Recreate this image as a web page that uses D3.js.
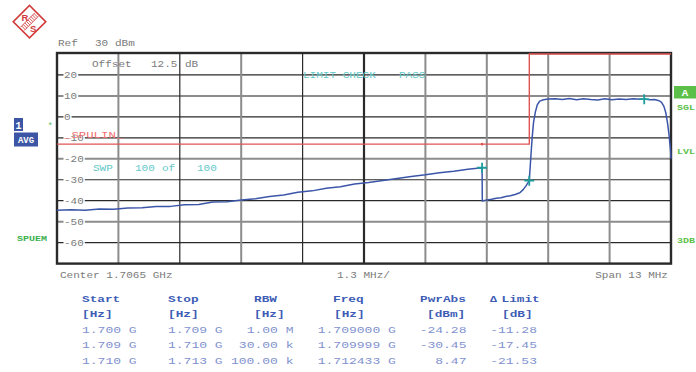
<!DOCTYPE html>
<html><head><meta charset="utf-8">
<script src="https://cdn.jsdelivr.net/npm/d3@7"></script>
<style>body{margin:0;background:#fff}svg{display:block}text{white-space:pre}</style>
</head><body>
<svg id="c" width="696" height="372"></svg>
<script>
// ---------- data ----------
const freqStartGHz = 1.700, spanMHz = 13;
const yTicks = [20, 10, 0, -10, -20, -30, -40, -50, -60];
const xDivs = [0,1,2,3,4,5,6,7,8,9,10];
// trace (MHz offset from 1.700 GHz, dBm)
const traceF = [0.00,0.30,0.60,0.90,1.20,1.50,1.80,2.10,2.40,2.70,3.00,3.30,3.60,3.90,4.20,4.50,4.80,5.10,5.40,5.70,6.00,6.30,6.60,6.90,7.20,7.50,7.80,8.10,8.40,8.70,9.00,
  9.005,9.10,9.20,9.30,9.40,9.50,9.60,9.70,9.80,9.87,9.93,9.999,10.03,10.06,10.09,10.13,10.17,10.22,10.30,10.40,
  10.55,10.70,10.85,11.00,11.15,11.30,11.45,11.60,11.75,11.90,12.05,12.20,12.35,12.433,12.55,12.65,12.75,12.80,12.85,12.89,12.93,12.96,12.99,13.00];
const traceV = [-44.6,-44.3,-44.5,-44.0,-44.1,-43.5,-43.4,-42.7,-42.7,-41.9,-41.8,-40.6,-40.5,-39.7,-39.1,-38.0,-37.3,-36.0,-35.3,-34.0,-33.3,-32.0,-31.3,-30.3,-29.4,-28.4,-27.6,-26.6,-25.9,-25.0,-24.28,
  -40.1,-39.6,-39.3,-38.8,-38.6,-38.0,-37.6,-37.0,-36.2,-34.7,-32.9,-30.45,-20.0,-10.0,-2.5,2.5,5.8,7.5,8.2,8.5,
  8.7,8.3,8.8,8.2,8.6,8.3,8.1,8.6,8.2,8.5,8.3,8.7,8.4,8.47,8.2,8.3,7.7,6.9,5.0,2.0,-3.5,-9.0,-16.0,-20.0];
const limitF = [0, 10, 10, 13];
const limitV = [-13, -13, 30, 30];
const markerF = [9.0, 9.999, 12.433];
const markerV = [-24.28, -30.45, 8.47];
const tblHead = ["Start","Stop","RBW","Freq","PwrAbs"];
const colStart = ["1.700 G","1.709 G","1.710 G"];
const colStop = ["1.709 G","1.710 G","1.713 G"];
const colRBW = ["1.00 M","30.00 k","100.00 k"];
const colFreq = ["1.709000 G","1.709999 G","1.712433 G"];
const colPwr = ["-24.28","-30.45","8.47"];
const colLim = ["-11.28","-17.45","-21.53"];

// ---------- drawing ----------
const svg = d3.select("#c");
const x = d3.scaleLinear().domain([0, spanMHz]).range([57, 671]);
const y = d3.scaleLinear().domain([-70, 30]).range([263.6, 54]);
const FONT = "'Liberation Mono','DejaVu Sans Mono',monospace";

function T(str, tx, ty, o) {
  o = o || {};
  return svg.append("text")
    .attr("transform", `translate(${tx},${ty}) scale(${o.sx||1.3},1)`)
    .attr("font-family", FONT).attr("font-size", o.size||8.5)
    .attr("font-weight", o.weight||"normal")
    .attr("text-anchor", o.anchor||"start")
    .attr("fill", o.fill||"#7a7a7a").text(str);
}

// logo
const RED = "#d23a3a";
const logo = svg.append("g").attr("transform","translate(29.5,21.7) rotate(45)");
logo.append("rect").attr("x",-11.5).attr("y",-11.5).attr("width",23).attr("height",23)
  .attr("fill","none").attr("stroke",RED).attr("stroke-width",1.6);
for (let i=-9;i<=9;i+=2.2){
  logo.append("line").attr("x1",-2.5).attr("x2",2.5).attr("y1",i).attr("y2",i)
   .attr("stroke",RED).attr("stroke-width",0.8);
}
logo.append("line").attr("x1",-2.5).attr("x2",-2.5).attr("y1",-10).attr("y2",10).attr("stroke",RED).attr("stroke-width",0.8);
logo.append("line").attr("x1",2.5).attr("x2",2.5).attr("y1",-10).attr("y2",10).attr("stroke",RED).attr("stroke-width",0.8);
svg.append("text").attr("x",21.5).attr("y",20.5).attr("font-family","'Liberation Sans',sans-serif").attr("font-weight","bold").attr("font-size",9.5).attr("fill",RED).text("R");
svg.append("text").attr("x",30).attr("y",31.5).attr("font-family","'Liberation Sans',sans-serif").attr("font-weight","bold").attr("font-size",9.5).attr("fill",RED).text("S");

// grid
const hStyle = {"20":"d","10":"g","0":"d","-10":"d","-20":"g","-30":"d","-40":"d","-50":"g","-60":"d"};
const vStyle = ["","g","d","g","d","D","g","g","g","g"];
const gridG = svg.append("g");
yTicks.forEach(v => {
  const s = hStyle[String(v)];
  gridG.append("line").attr("x1",x(0)).attr("x2",x(spanMHz)).attr("y1",y(v)).attr("y2",y(v))
    .attr("stroke", s==="g" ? "#8c8c8c" : "#2a2a2a").attr("stroke-width", s==="g" ? 2 : 1.2);
});
xDivs.slice(1,10).forEach(i => {
  const s = vStyle[i];
  gridG.append("line").attr("x1",x(i*1.3)).attr("x2",x(i*1.3)).attr("y1",y(30)).attr("y2",y(-70))
    .attr("stroke", s==="g" ? "#8c8c8c" : "#2a2a2a").attr("stroke-width", s==="g" ? 2 : (s==="D"?2.2:1.2));
});
// frame
svg.append("rect").attr("x",x(0)).attr("y",y(30)-1).attr("width",x(spanMHz)-x(0)).attr("height",y(-70)-y(30)+1)
  .attr("fill","none").attr("stroke","#2a2a2a").attr("stroke-width",2.4);

// y tick labels with white background
yTicks.forEach(v => {
  const label = v < 0 ? "-" + Math.abs(v) : String(v);
  const w = label.length * 6.6;
  svg.append("rect").attr("x",63.5).attr("y",y(v)-4).attr("width",w+1.5).attr("height",8).attr("fill","#fff");
  T(label, 64, y(v)+3, {size:8.3, sx:1.32});
});

// texts in plot
T("Ref", 58, 46);
T("30", 95, 46);
T("dBm", 115, 46);
T("Offset", 92, 66.5);
T("12.5", 151, 66.5);
T("dB", 185, 66.5);
T("LIMIT CHECK", 303, 77.5, {fill:"#64c8c8"});
T("PASS", 399, 77.5, {fill:"#64c8c8"});
T("SWP", 93, 170.5, {fill:"#64c8c8"});
T("100", 135, 170.5, {fill:"#64c8c8"});
T("of", 162, 170.5, {fill:"#64c8c8"});
T("100", 197, 170.5, {fill:"#64c8c8"});

// limit line
const lim = d3.range(limitF.length).map(i => [limitF[i], limitV[i]]);
svg.append("path").attr("d", d3.line().x(d=>x(d[0])).y(d=>y(d[1]))(lim))
  .attr("fill","none").attr("stroke","#e05454").attr("stroke-width",1.4);
svg.append("circle").attr("cx",x(9.0)).attr("cy",y(-13)).attr("r",1.3).attr("fill","#e05454");
T("_SPULIN_", 64, 137.5, {fill:"#f07070", size:9.5, sx:1.3});

// trace
const tr = d3.range(traceF.length).map(i => [traceF[i], traceV[i]]);
svg.append("path").attr("d", d3.line().x(d=>x(d[0])).y(d=>y(d[1]))(tr))
  .attr("fill","none").attr("stroke","#3b56a8").attr("stroke-width",1.5).attr("stroke-linejoin","round");

// markers
markerF.forEach((f,i) => {
  const cx = x(f), cy = y(markerV[i]);
  svg.append("path").attr("d",`M${cx-5},${cy}H${cx+5}M${cx},${cy-5}V${cy+5}`)
    .attr("stroke","#1e9c9c").attr("stroke-width",1.8);
});

// left annotations
svg.append("rect").attr("x",14).attr("y",118).attr("width",9).attr("height",13).attr("fill","#3d55a5");
svg.append("text").attr("x",18.5).attr("y",128.5).attr("text-anchor","middle").attr("font-family",FONT).attr("font-weight","bold").attr("font-size",10).attr("fill","#fff").text("1");
svg.append("rect").attr("x",14).attr("y",132.5).attr("width",24).attr("height",14).attr("fill","#3d55a5");
T("AVG", 26, 143, {fill:"#fff", weight:"bold", size:8.5, sx:1.05, anchor:"middle"});
T("*", 47.5, 129, {fill:"#5cbf5c", size:9, sx:1});
T("SPUEM", 17, 240.5, {fill:"#3bb04f", weight:"bold", size:8, sx:1.25});

// right annotations
svg.append("rect").attr("x",674).attr("y",86).attr("width",22).attr("height",12.5).attr("fill","#5cbf4a");
T("A", 685, 96, {fill:"#fff", weight:"bold", size:9, sx:1.2, anchor:"middle"});
T("SGL", 677, 110, {fill:"#5cbf4a", weight:"bold", size:8, sx:1.25});
T("LVL", 677, 154, {fill:"#5cbf4a", weight:"bold", size:8, sx:1.25});
T("3DB", 677, 243, {fill:"#5cbf4a", weight:"bold", size:8, sx:1.25});

// bottom axis info
T("Center " + (freqStartGHz + spanMHz/2000).toFixed(4) + " GHz", 60, 277.5);
T((spanMHz/10).toFixed(1) + " MHz/", 337, 277.5);
T("Span " + spanMHz + " MHz", 668, 277.5, {anchor:"end"});

// table
const HC = "#3d5cb5", DC = "#7f92cf";
const hx = [82, 168, 254, 333, 420];
tblHead.forEach((h,i) => T(h, hx[i], 302, {fill:HC, weight:"bold", size:9.6, sx:1.33}));
T("\u0394", 490, 302, {fill:HC, weight:"bold", size:9.6, sx:1.2});
T("Limit", 501.5, 302, {fill:HC, weight:"bold", size:9.6, sx:1.33});
[[82,"[Hz]"],[168,"[Hz]"],[254,"[Hz]"],[334,"[Hz]"],[427,"[dBm]"],[502,"[dB]"]]
  .forEach(d => T(d[1], d[0], 317, {fill:HC, weight:"bold", size:9.6, sx:1.33}));
const rowY = [332.5, 348, 363.5];
const dOpt = a => ({fill:DC, size:9.8, sx:1.33, anchor:a});
rowY.forEach((ry,i) => {
  T(colStart[i], 82, ry, dOpt("start"));
  T(colStop[i], 168, ry, dOpt("start"));
  T(colRBW[i], 293.5, ry, dOpt("end"));
  T(colFreq[i], 317.7, ry, dOpt("start"));
  T(colPwr[i], 466.5, ry, dOpt("end"));
  T(colLim[i], 537, ry, dOpt("end"));
});
</script>
</body></html>
